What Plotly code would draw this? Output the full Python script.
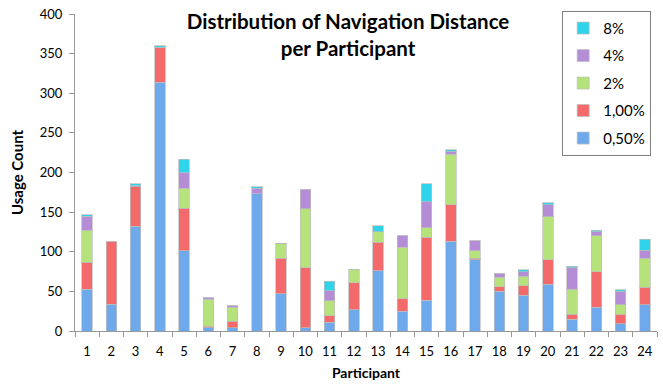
import plotly.graph_objects as go

participants = [str(i) for i in range(1, 25)]

# usage counts per navigation distance, one value per participant
d050 = [53, 34, 132, 314, 101, 4, 4, 173, 47, 4, 11, 27, 76, 25, 39, 113, 90, 50, 45, 59, 15, 30, 9, 33]
d100 = [34, 79, 50, 44, 54, 2, 8, 0, 45, 76, 8, 34, 36, 16, 79, 46, 2, 6, 12, 31, 6, 45, 12, 22]
d2 = [40, 0, 0, 0, 25, 34, 18, 0, 18, 74, 19, 16, 13, 65, 12, 64, 9, 12, 12, 54, 32, 45, 12, 37]
d4 = [18, 0, 1, 0, 20, 2, 2, 7, 1, 25, 13, 0, 0, 14, 33, 4, 13, 5, 6, 15, 27, 5, 17, 10]
d8 = [2, 0, 3, 2, 17, 0, 0, 2, 0, 0, 12, 0, 8, 0, 23, 2, 0, 0, 2, 3, 2, 2, 2, 14]

series = [
    ("0,50%", d050, "#6EAAEB"),
    ("1,00%", d100, "#F46A6A"),
    ("2%", d2, "#B6E27C"),
    ("4%", d4, "#B58DD6"),
    ("8%", d8, "#2FD3EA"),
]

FONT = "Lato, Carlito, Calibri, sans-serif"

fig = go.Figure()
for i, (name, vals, color) in enumerate(series):
    fig.add_trace(go.Bar(
        x=participants, y=vals, name=name, legendgroup=name,
        legendrank=1000 - i,  # largest distance listed first
        marker=dict(color=color, line=dict(color="rgba(190,190,190,0.7)", width=1)),
    ))

fig.update_layout(
    width=663, height=385,
    barmode="stack", bargap=0.56,
    plot_bgcolor="white", paper_bgcolor="white",
    margin=dict(l=75, r=6, t=8, b=54),
    font=dict(family=FONT, color="#000000", size=13),
    title=dict(
        text="<b>Distribution of Navigation Distance<br>per Participant</b>",
        x=0.525, xanchor="center", y=0.925, yanchor="top",
        font=dict(family=FONT, size=20.5, color="#000000"),
    ),
    legend=dict(
        x=0.99, xanchor="right", y=1.01, yanchor="top",
        traceorder="grouped",
        bordercolor="#808080", borderwidth=1, bgcolor="white",
        font=dict(family=FONT, size=15),
        itemwidth=30, tracegroupgap=5,
    ),
    xaxis=dict(
        title=dict(text="<b>Participant</b>", font=dict(size=14), standoff=10),
        type="category", tickson="boundaries", tickangle=0,
        ticks="outside", ticklen=5, tickcolor="#999999",
        showline=True, linecolor="#999999", linewidth=1,
        showgrid=False, tickfont=dict(size=13), ticklabelstandoff=8,
    ),
    yaxis=dict(
        title=dict(text="<b>Usage Count</b>", font=dict(size=15), standoff=12),
        range=[0, 400], dtick=50, ticklabeloverflow="allow",
        ticks="outside", ticklen=5, tickcolor="#999999",
        showline=True, linecolor="#999999", linewidth=1,
        showgrid=False, zeroline=False, tickfont=dict(size=13),
        ticklabelstandoff=4,
    ),
)

fig.write_html("out.html")
